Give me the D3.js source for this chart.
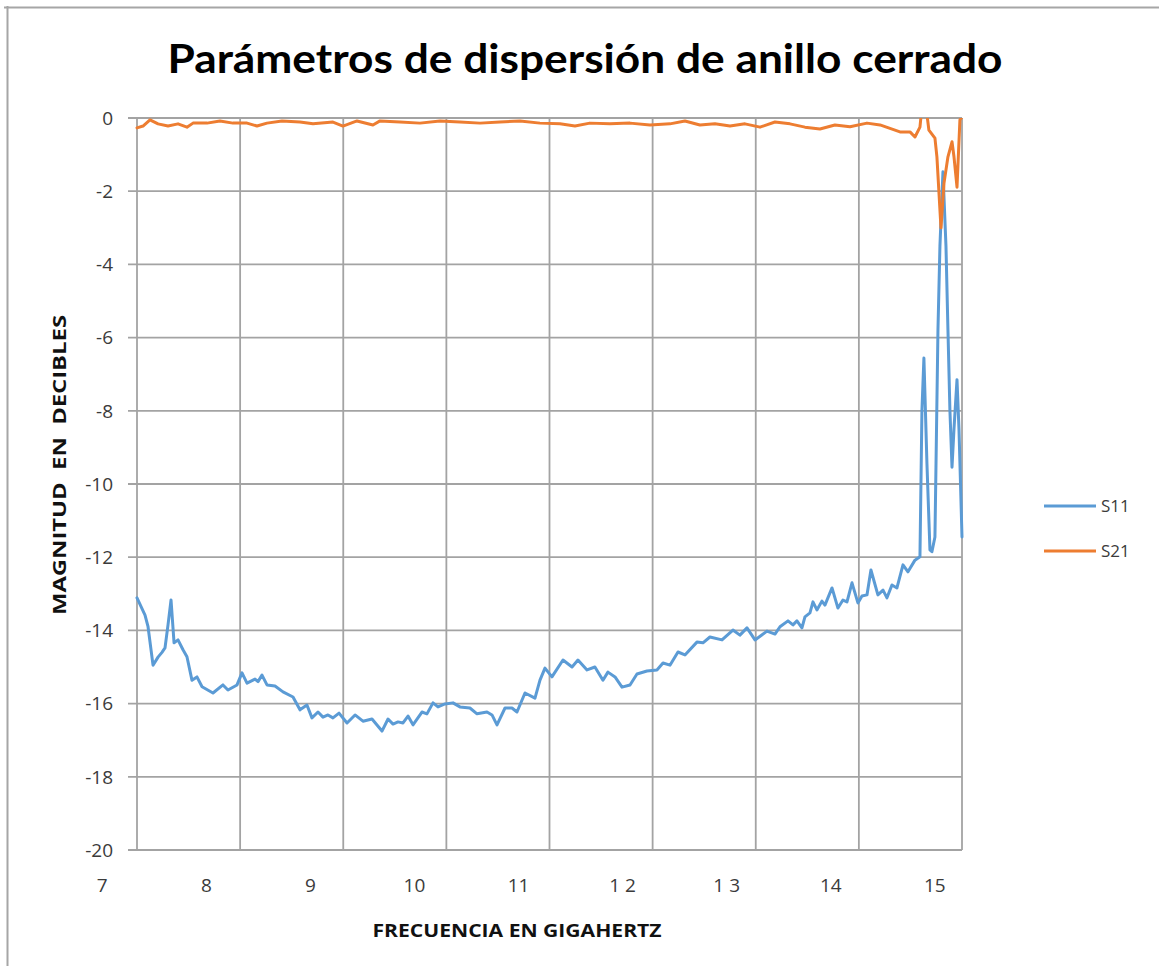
<!DOCTYPE html>
<html>
<head>
<meta charset="utf-8">
<script src="https://cdn.jsdelivr.net/npm/d3@7"></script>
<style>
  html, body { margin: 0; padding: 0; background: #fff; }
  svg { display: block; }
</style>
</head>
<body>
<svg id="chart" width="1159" height="966"></svg>
<script>
// Frequency (GHz) and magnitude (dB) samples for each S-parameter
const s11Freq = [7.334, 7.411, 7.440, 7.488, 7.536, 7.574, 7.603, 7.632, 7.661, 7.690, 7.728, 7.776, 7.814, 7.862, 7.910, 7.959,
  8.064, 8.160, 8.208, 8.295, 8.343, 8.391, 8.468, 8.497, 8.535, 8.583, 8.660, 8.737, 8.833, 8.900, 8.967,
  9.015, 9.073, 9.121, 9.169, 9.217, 9.275, 9.352, 9.429, 9.505, 9.592, 9.688, 9.746, 9.794, 9.842, 9.890, 9.938, 9.986,
  10.072, 10.120, 10.178, 10.226, 10.293, 10.370, 10.437, 10.533, 10.601, 10.697, 10.745, 10.793, 10.870, 10.937, 10.985,
  11.062, 11.158, 11.206, 11.254, 11.321, 11.427, 11.514, 11.571, 11.658, 11.734, 11.811, 11.859, 11.927, 11.994,
  12.071, 12.138, 12.234, 12.330, 12.388, 12.455, 12.532, 12.599, 12.714, 12.772, 12.839, 12.955,
  13.060, 13.127, 13.195, 13.272, 13.387, 13.464, 13.512, 13.589, 13.637, 13.675, 13.723, 13.752, 13.800, 13.829, 13.867, 13.915, 13.944,
  14.012, 14.069, 14.117, 14.156, 14.204, 14.261, 14.300, 14.348, 14.386, 14.453, 14.502, 14.540, 14.588, 14.636, 14.694, 14.742,
  14.809, 14.857, 14.876, 14.895, 14.924, 14.953, 14.972, 15.001, 15.030, 15.049, 15.078, 15.107, 15.126, 15.145, 15.165,
  15.184, 15.213, 15.232, 15.261];
const s11Values = [-13.11, -13.58, -13.9, -14.95, -14.73, -14.6, -14.48, -13.85, -13.17, -14.34, -14.26, -14.53, -14.72, -15.36, -15.27, -15.54,
  -15.71, -15.49, -15.63, -15.49, -15.16, -15.44, -15.33, -15.4, -15.22, -15.49, -15.52, -15.68, -15.82, -16.17, -16.04,
  -16.39, -16.23, -16.37, -16.31, -16.39, -16.26, -16.53, -16.31, -16.48, -16.42, -16.75, -16.42, -16.56, -16.5, -16.53, -16.34, -16.58,
  -16.23, -16.28, -15.98, -16.09, -16.01, -15.98, -16.09, -16.12, -16.28, -16.23, -16.31, -16.58, -16.12, -16.12, -16.23,
  -15.71, -15.85, -15.36, -15.03, -15.27, -14.81, -15.0, -14.81, -15.08, -15.0, -15.36, -15.14, -15.27, -15.55,
  -15.49, -15.19, -15.11, -15.08, -14.89, -14.95, -14.59, -14.67, -14.32, -14.34, -14.18, -14.26,
  -13.99, -14.13, -13.93, -14.26, -14.02, -14.1, -13.9, -13.74, -13.85, -13.74, -13.93, -13.63, -13.52, -13.22, -13.44, -13.2, -13.31,
  -12.84, -13.39, -13.17, -13.22, -12.7, -13.25, -13.06, -13.03, -12.35, -13.03, -12.9, -13.11, -12.76, -12.84, -12.21, -12.4,
  -12.08, -11.99, -8.0, -6.56, -9.43, -11.8, -11.85, -11.45, -5.79, -3.5, -1.47, -3.5, -5.79, -8.0, -9.54,
  -8.5, -7.15, -8.5, -11.45];

const s21Freq = [7.334, 7.392, 7.459, 7.536, 7.632, 7.728, 7.814, 7.872, 8.007, 8.131, 8.256, 8.391, 8.487, 8.583, 8.727, 8.900,
  9.025, 9.217, 9.313, 9.448, 9.601, 9.669, 9.861, 10.053, 10.245, 10.437, 10.630, 10.822, 11.014, 11.206, 11.398, 11.542, 11.686, 11.878,
  12.071, 12.263, 12.455, 12.599, 12.743, 12.887, 13.032, 13.176, 13.320, 13.464, 13.608, 13.752, 13.896, 14.040, 14.185, 14.348, 14.473,
  14.665, 14.761, 14.809, 14.857, 14.876, 14.895, 14.924, 14.943, 15.001, 15.020, 15.059, 15.088, 15.126, 15.165, 15.184, 15.213, 15.241, 15.261];
const s21Values = [-0.27, -0.22, -0.05, -0.16, -0.22, -0.16, -0.25, -0.14, -0.14, -0.08, -0.14, -0.14, -0.22, -0.14, -0.08, -0.11,
  -0.16, -0.11, -0.22, -0.08, -0.19, -0.08, -0.11, -0.14, -0.08, -0.11, -0.14, -0.11, -0.08, -0.14, -0.16, -0.22, -0.14, -0.16,
  -0.14, -0.19, -0.16, -0.08, -0.19, -0.16, -0.22, -0.16, -0.25, -0.11, -0.16, -0.25, -0.30, -0.19, -0.24, -0.14, -0.19,
  -0.38, -0.38, -0.52, -0.25, 0.3, 0.5, 0.1, -0.33, -0.55, -1.06, -3.0, -1.78, -1.06, -0.65, -1.06, -1.89, -0.05, 0.03];

const seriesNames = ["S11", "S21"];
const seriesColors = ["#5B9BD5", "#ED7D31"];

const yTicks = [0, -2, -4, -6, -8, -10, -12, -14, -16, -18, -20];
const xTickValues = [7, 8, 9, 10, 11, 12, 13, 14, 15];
const xTickLabels = ["7", "8", "9", "10", "11", "1 2", "1 3", "14", "15"];

const titleText = "Parámetros de dispersión de anillo cerrado";
const xTitle = "FRECUENCIA EN GIGAHERTZ";
const yTitle = "MAGNITUD  EN  DECIBLES";

// Layout
const plot = { left: 137, right: 962, top: 118, bottom: 850 };
const gridColor = "#a3a3a3";
const textColor = "#3b3b3b";

const svg = d3.select("#chart");

// Outer frame (top and left edges)
svg.append("line").attr("x1", 7.5).attr("x2", 7.5).attr("y1", 6).attr("y2", 966)
  .attr("stroke", "#a6a6a6").attr("stroke-width", 2);
svg.append("line").attr("x1", 4).attr("x2", 1159).attr("y1", 7.5).attr("y2", 7.5)
  .attr("stroke", "#a6a6a6").attr("stroke-width", 2);

const x = d3.scaleLinear().domain([7.334, 15.261]).range([plot.left, plot.right]);
const y = d3.scaleLinear().domain([-20, 0]).range([plot.bottom, plot.top]);

// Vertical gridlines: eight equal divisions of the frequency span
const [x0, x1] = x.domain();
const vGrid = d3.range(9).map(i => x0 + i * (x1 - x0) / 8);

const grid = svg.append("g");
grid.selectAll("line.v").data(vGrid).join("line")
  .attr("class", "v")
  .attr("x1", d => x(d)).attr("x2", d => x(d))
  .attr("y1", plot.top).attr("y2", plot.bottom)
  .attr("stroke", gridColor).attr("stroke-width", 1.8);

grid.selectAll("line.h").data(yTicks).join("line")
  .attr("class", "h")
  .attr("x1", plot.left - 9).attr("x2", plot.right)
  .attr("y1", d => y(d)).attr("y2", d => y(d))
  .attr("stroke", gridColor).attr("stroke-width", 1.8);

// Y tick labels
svg.append("g").selectAll("text").data(yTicks).join("text")
  .attr("x", 113).attr("y", d => y(d))
  .attr("dy", "0.36em")
  .attr("text-anchor", "end")
  .attr("font-family", "'Open Sans', sans-serif")
  .attr("font-size", 19)
  .attr("fill", textColor)
  .text(d => d === 0 ? "0" : "-" + Math.abs(d));

// X tick labels
svg.append("g").selectAll("text").data(xTickValues).join("text")
  .attr("x", d => x(d)).attr("y", 885)
  .attr("dy", "0.36em")
  .attr("text-anchor", "middle")
  .attr("font-family", "'Open Sans', sans-serif")
  .attr("font-size", 19)
  .attr("fill", textColor)
  .text((d, i) => xTickLabels[i]);

// Data lines, clipped to the plot area
svg.append("clipPath").attr("id", "plotClip")
  .append("rect")
  .attr("x", plot.left - 2).attr("y", plot.top)
  .attr("width", plot.right - plot.left + 4).attr("height", plot.bottom - plot.top);

const line = d3.line().x(d => x(d[0])).y(d => y(d[1])).curve(d3.curveLinear);
const series = [
  d3.zip(s11Freq, s11Values),
  d3.zip(s21Freq, s21Values)
];

const lines = svg.append("g").attr("clip-path", "url(#plotClip)");
lines.selectAll("path").data(series).join("path")
  .attr("d", line)
  .attr("fill", "none")
  .attr("stroke", (d, i) => seriesColors[i])
  .attr("stroke-width", 3)
  .attr("stroke-linejoin", "round")
  .attr("stroke-linecap", "round");

// Title
svg.append("text")
  .attr("x", 585).attr("y", 73)
  .attr("text-anchor", "middle")
  .attr("font-family", "Lato, 'Open Sans', sans-serif")
  .attr("font-weight", "bold")
  .attr("font-size", 41)
  .attr("fill", "#000")
  .attr("textLength", 835)
  .attr("lengthAdjust", "spacingAndGlyphs")
  .text(titleText);

// Axis titles
svg.append("text")
  .attr("x", 517).attr("y", 937)
  .attr("text-anchor", "middle")
  .attr("font-family", "'Open Sans', sans-serif")
  .attr("font-weight", "bold")
  .attr("font-size", 17)
  .attr("fill", "#111")
  .attr("textLength", 289)
  .attr("lengthAdjust", "spacingAndGlyphs")
  .text(xTitle);

svg.append("text")
  .attr("transform", "translate(66,465) rotate(-90)")
  .attr("text-anchor", "middle")
  .attr("font-family", "'Open Sans', sans-serif")
  .attr("font-weight", "bold")
  .attr("font-size", 17)
  .attr("fill", "#111")
  .style("white-space", "pre")
  .attr("textLength", 300)
  .attr("lengthAdjust", "spacingAndGlyphs")
  .text(yTitle);

// Legend
const legend = svg.append("g");
const legendRows = legend.selectAll("g").data(seriesNames).join("g")
  .attr("transform", (d, i) => `translate(1044, ${506 + i * 45})`);
legendRows.append("line")
  .attr("x1", 0).attr("x2", 52).attr("y1", 0).attr("y2", 0)
  .attr("stroke", (d, i) => seriesColors[i])
  .attr("stroke-width", 3);
legendRows.append("text")
  .attr("x", 57).attr("y", 0).attr("dy", "0.36em")
  .attr("font-family", "'Open Sans', sans-serif")
  .attr("font-size", 17)
  .attr("fill", textColor)
  .text(d => d);
</script>
</body>
</html>
